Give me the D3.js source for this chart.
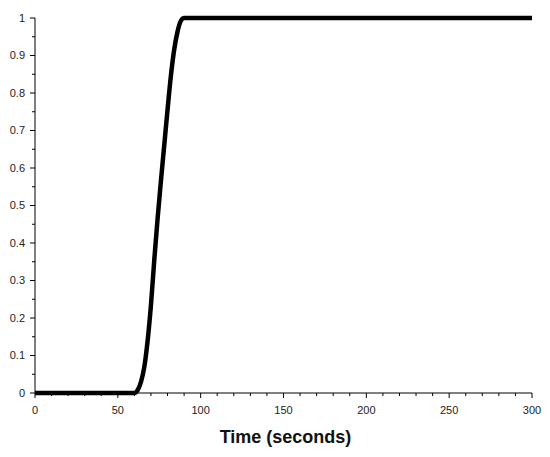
<!DOCTYPE html>
<html>
<head>
<meta charset="utf-8">
<script src="https://cdn.jsdelivr.net/npm/d3@7"></script>
<style>
  html, body { margin: 0; padding: 0; background: #fff; }
  svg { display: block; }
</style>
</head>
<body>
<svg id="chart" width="550" height="457"></svg>
<script>
// ---- data ----
const timeSeconds = [0, 60, 62, 64, 66, 68, 70, 72, 74, 76, 78, 80, 82, 84, 86, 88, 90, 300];
const response    = [0, 0, 0.008, 0.03, 0.07, 0.14, 0.235, 0.355, 0.465, 0.565, 0.66, 0.755, 0.845, 0.915, 0.963, 0.992, 1, 1];
const xTickValues = [0, 50, 100, 150, 200, 250, 300];
const yTickValues = [0, 0.1, 0.2, 0.3, 0.4, 0.5, 0.6, 0.7, 0.8, 0.9, 1];
const xLabel = "Time (seconds)";

const data = timeSeconds.map((t, i) => ({ t, v: response[i] }));

// ---- layout ----
const svg = d3.select("#chart");
const plotLeft = 35, plotRight = 532, plotTop = 18, plotBottom = 393;

const x = d3.scaleLinear().domain([0, 300]).range([plotLeft, plotRight]);
const y = d3.scaleLinear().domain([0, 1]).range([plotBottom, plotTop]);

const font = "'Liberation Sans', Arial, sans-serif";

// minor ticks
const xMinor = d3.range(0, 301, 10).filter(v => v % 50 !== 0);
const yMinor = d3.range(0, 1.0001, 0.05).map(v => +v.toFixed(2)).filter(v => Math.round(v * 100) % 10 !== 0);

// X axis
const gx = svg.append("g").attr("transform", `translate(0,${plotBottom})`);
gx.append("line").attr("x1", plotLeft).attr("x2", plotRight).attr("y1", 0).attr("y2", 0)
  .attr("stroke", "#000").attr("stroke-width", 1);
gx.selectAll("line.maj").data(xTickValues).join("line").attr("class", "maj")
  .attr("x1", d => x(d)).attr("x2", d => x(d)).attr("y1", 0).attr("y2", 5)
  .attr("stroke", "#000").attr("stroke-width", 1);
gx.selectAll("line.min").data(xMinor).join("line").attr("class", "min")
  .attr("x1", d => x(d)).attr("x2", d => x(d)).attr("y1", 0).attr("y2", 3)
  .attr("stroke", "#000").attr("stroke-width", 1);
gx.selectAll("text").data(xTickValues).join("text")
  .attr("x", d => x(d)).attr("y", 21)
  .attr("text-anchor", "middle")
  .attr("font-family", font).attr("font-size", 11).attr("fill", "#222")
  .text(d => d3.format("d")(d));

// Y axis
const gy = svg.append("g").attr("transform", `translate(${plotLeft},0)`);
gy.append("line").attr("x1", 0).attr("x2", 0).attr("y1", plotTop).attr("y2", plotBottom)
  .attr("stroke", "#000").attr("stroke-width", 1);
gy.selectAll("line.maj").data(yTickValues).join("line").attr("class", "maj")
  .attr("x1", -5).attr("x2", 0).attr("y1", d => y(d)).attr("y2", d => y(d))
  .attr("stroke", "#000").attr("stroke-width", 1);
gy.selectAll("line.min").data(yMinor).join("line").attr("class", "min")
  .attr("x1", -3).attr("x2", 0).attr("y1", d => y(d)).attr("y2", d => y(d))
  .attr("stroke", "#000").attr("stroke-width", 1);
gy.selectAll("text").data(yTickValues).join("text")
  .attr("x", -10).attr("y", d => y(d)).attr("dy", "0.35em")
  .attr("text-anchor", "end")
  .attr("font-family", font).attr("font-size", 11).attr("fill", "#222")
  .text(d => d === 0 || d === 1 ? String(d) : d.toFixed(1));

// Curve
const line = d3.line().x(d => x(d.t)).y(d => y(d.v)).curve(d3.curveMonotoneX);
svg.append("path").datum(data)
  .attr("d", line)
  .attr("fill", "none").attr("stroke", "#000").attr("stroke-width", 4.5)
  .attr("stroke-linejoin", "round");

// X label
svg.append("text")
  .attr("x", (plotLeft + plotRight) / 2 + 2).attr("y", 443)
  .attr("text-anchor", "middle")
  .attr("font-family", font).attr("font-size", 18).attr("font-weight", "bold")
  .attr("fill", "#111")
  .text(xLabel);
</script>
</body>
</html>
